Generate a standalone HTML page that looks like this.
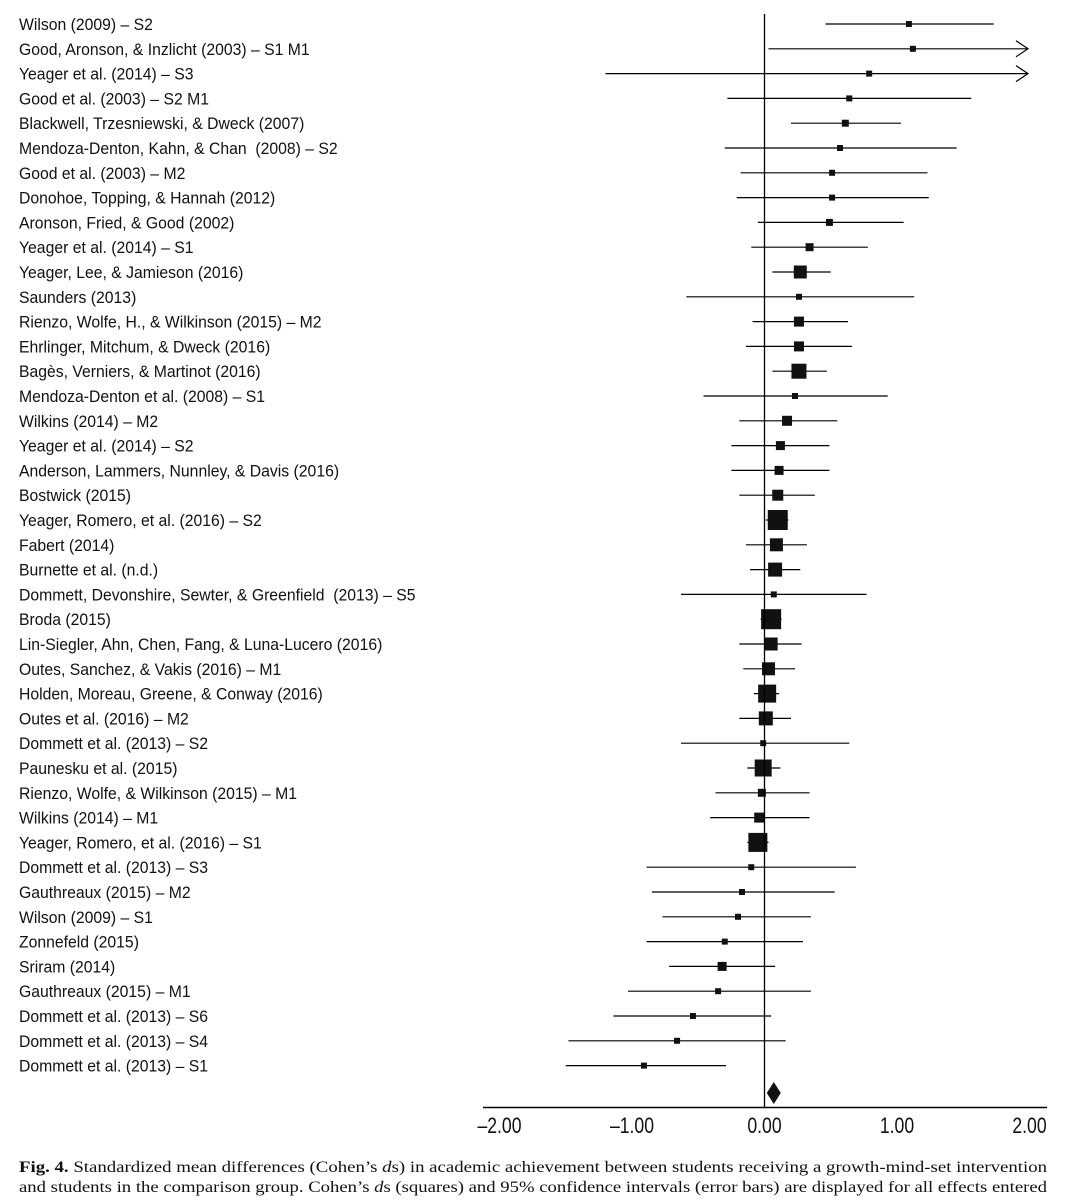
<!DOCTYPE html>
<html><head><meta charset="utf-8"><style>
html,body{margin:0;padding:0;background:#fff;}
svg{display:block;}
svg text{white-space:pre;}
</style></head><body>
<svg id="chart" width="1069" height="1200" xmlns="http://www.w3.org/2000/svg">
<g id="labels"></g>
<g id="marks"></g>
<line x1="764.5" y1="14" x2="764.5" y2="1107" stroke="#000" stroke-width="1.3"/>
<line x1="483" y1="1107.5" x2="1047" y2="1107.5" stroke="#000" stroke-width="1.5"/>
<g id="ticks"></g>
<g font-family="'Liberation Serif',serif" font-size="16" fill="#111">
<text x="19" y="1172" textLength="1028" lengthAdjust="spacingAndGlyphs"><tspan font-weight="bold">Fig. 4.</tspan> Standardized mean differences (Cohen’s <tspan font-style="italic">d</tspan>s) in academic achievement between students receiving a growth-mind-set intervention</text>
<text x="19" y="1192" textLength="1028" lengthAdjust="spacingAndGlyphs">and students in the comparison group. Cohen’s <tspan font-style="italic">d</tspan>s (squares) and 95% confidence intervals (error bars) are displayed for all effects entered</text>
</g>
</svg>
<script>
const studies=["Wilson (2009) – S2","Good, Aronson, & Inzlicht (2003) – S1 M1","Yeager et al. (2014) – S3","Good et al. (2003) – S2 M1","Blackwell, Trzesniewski, & Dweck (2007)","Mendoza-Denton, Kahn, & Chan  (2008) – S2","Good et al. (2003) – M2","Donohoe, Topping, & Hannah (2012)","Aronson, Fried, & Good (2002)","Yeager et al. (2014) – S1","Yeager, Lee, & Jamieson (2016)","Saunders (2013)","Rienzo, Wolfe, H., & Wilkinson (2015) – M2","Ehrlinger, Mitchum, & Dweck (2016)","Bagès, Verniers, & Martinot (2016)","Mendoza-Denton et al. (2008) – S1","Wilkins (2014) – M2","Yeager et al. (2014) – S2","Anderson, Lammers, Nunnley, & Davis (2016)","Bostwick (2015)","Yeager, Romero, et al. (2016) – S2","Fabert (2014)","Burnette et al. (n.d.)","Dommett, Devonshire, Sewter, & Greenfield  (2013) – S5","Broda (2015)","Lin-Siegler, Ahn, Chen, Fang, & Luna-Lucero (2016)","Outes, Sanchez, & Vakis (2016) – M1","Holden, Moreau, Greene, & Conway (2016)","Outes et al. (2016) – M2","Dommett et al. (2013) – S2","Paunesku et al. (2015)","Rienzo, Wolfe, & Wilkinson (2015) – M1","Wilkins (2014) – M1","Yeager, Romero, et al. (2016) – S1","Dommett et al. (2013) – S3","Gauthreaux (2015) – M2","Wilson (2009) – S1","Zonnefeld (2015)","Sriram (2014)","Gauthreaux (2015) – M1","Dommett et al. (2013) – S6","Dommett et al. (2013) – S4","Dommett et al. (2013) – S1"];
const effect=[1.09,1.12,0.79,0.64,0.61,0.57,0.51,0.51,0.49,0.34,0.27,0.26,0.26,0.26,0.26,0.23,0.17,0.12,0.11,0.10,0.10,0.09,0.08,0.07,0.05,0.05,0.03,0.02,0.01,-0.01,-0.01,-0.02,-0.04,-0.05,-0.10,-0.17,-0.20,-0.30,-0.32,-0.35,-0.54,-0.66,-0.91];
const lower=[0.46,0.03,-1.20,-0.28,0.20,-0.30,-0.18,-0.21,-0.05,-0.10,0.06,-0.59,-0.09,-0.14,0.06,-0.46,-0.19,-0.25,-0.25,-0.19,0.01,-0.14,-0.11,-0.63,-0.03,-0.19,-0.16,-0.08,-0.19,-0.63,-0.13,-0.37,-0.41,-0.13,-0.89,-0.85,-0.77,-0.89,-0.72,-1.03,-1.14,-1.48,-1.50];
const upper=[1.73,2.5,2.5,1.56,1.03,1.45,1.23,1.24,1.05,0.78,0.50,1.13,0.63,0.66,0.47,0.93,0.55,0.49,0.49,0.38,0.18,0.32,0.27,0.77,0.13,0.28,0.23,0.11,0.20,0.64,0.12,0.34,0.34,0.03,0.69,0.53,0.35,0.29,0.08,0.35,0.05,0.16,-0.29];
const weight=[6,6,6,6,7,6,6,6,7,8,13,6,10,10,15,6,10,9,9,11,20,13,14,6,20,13,13,18,14,6,17,8,10,19,6,6,6,6,9,6,6,6,6];
const pooled=0.07;
const tickVals=[-2,-1,0,1,2];
const tickLabels=["–2.00","–1.00","0.00","1.00","2.00"];
const NS="http://www.w3.org/2000/svg";
const xs=v=>764.5+v*132.5;
const ys=i=>24+i*24.8;
const axMax=2;
const L=document.getElementById('labels'),M=document.getElementById('marks'),T=document.getElementById('ticks');
function mk(tag,attrs,parent){const e=document.createElementNS(NS,tag);for(const k in attrs)e.setAttribute(k,attrs[k]);parent.appendChild(e);return e;}
studies.forEach((s,i)=>{
  const t=mk('text',{x:19,y:ys(i)+6,'font-family':"'Liberation Sans',sans-serif",'font-size':16.5,fill:'#111',transform:`translate(19 0) scale(0.955 1) translate(-19 0)`},L);
  
  
  t.textContent=s;
  const y=ys(i);
  const hi=Math.min(upper[i],axMax);
  const x2=upper[i]>axMax?1028:xs(hi);
  const ln=mk('line',{x1:xs(lower[i]),y1:y,x2:x2,y2:y,stroke:'#000','stroke-width':1.2},M);
  
  
  if(upper[i]>axMax){
    const ar=mk('polyline',{points:`${x2-12},${y-8} ${x2},${y} ${x2-12},${y+8}`,fill:'none',stroke:'#000','stroke-width':1.2},M);
    
    
  }
  const w=weight[i];
  const sq=mk('rect',{x:xs(effect[i])-w/2,y:y-w/2,width:w,height:w,fill:'#111'},M);
  
  
});
const dx=xs(pooled),dy=1093;
const dm=mk('polygon',{points:`${dx},${dy-11} ${dx+7},${dy} ${dx},${dy+11} ${dx-7},${dy}`,fill:'#111'},M);


tickVals.forEach((v,i)=>{
  const t=mk('text',{x:xs(v),y:1133,'text-anchor':'middle','font-family':"'Liberation Sans',sans-serif",'font-size':22,fill:'#111',transform:`translate(${xs(v)} 0) scale(0.8 1) translate(${-xs(v)} 0)`},T);
  
  
  t.textContent=tickLabels[i];
});
</script>
</body></html>
